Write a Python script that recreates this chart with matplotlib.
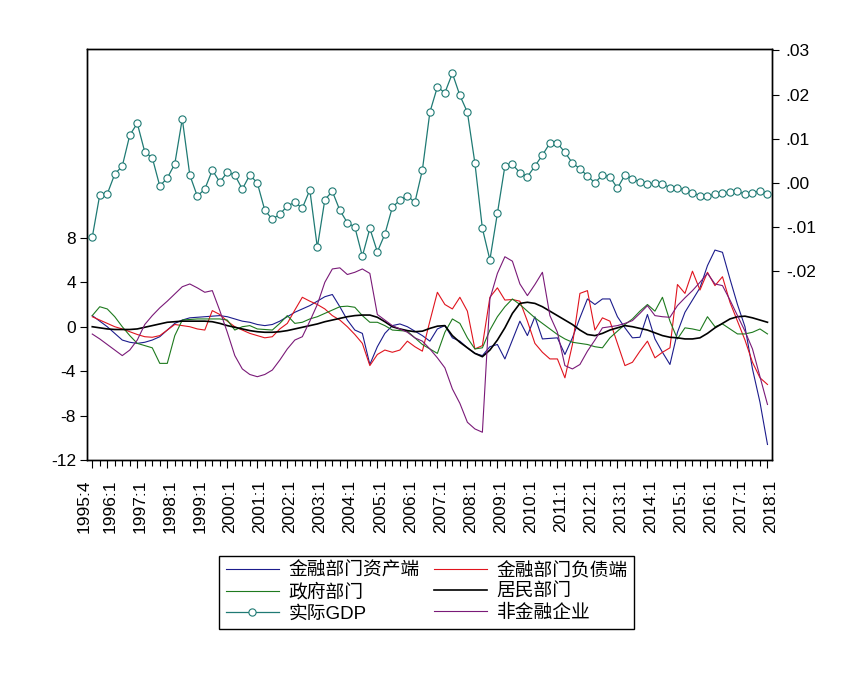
import numpy as np
import matplotlib
matplotlib.use('Agg')
import matplotlib.pyplot as plt
import matplotlib.transforms as mtransforms

plt.rcParams['font.family'] = ['Liberation Sans', 'Noto Sans CJK SC', 'DejaVu Sans']

# quarterly observations, 91 points (left edge labelled 1995:4, last 2018:1)
tick_labels = ['1995:4'] + [f'{y}:1' for y in range(1996, 2019)]

# 实际GDP (right axis)
gdp = [-0.0123, -0.0027, -0.0025, 0.0020, 0.0038, 0.0108, 0.0135, 0.0070, 0.0057, -0.0007,
       0.0011, 0.0043, 0.0145, 0.0018, -0.0030, -0.0014, 0.0029, 0.0002, 0.0024, 0.0018,
       -0.0014, 0.0018, 0.0000, -0.0062, -0.0082, -0.0071, -0.0052, -0.0044, -0.0057, -0.0016,
       -0.0146, -0.0038, -0.0019, -0.0062, -0.0090, -0.0100, -0.0166, -0.0103, -0.0156, -0.0116,
       -0.0055, -0.0039, -0.0029, -0.0044, 0.0029, 0.0160, 0.0217, 0.0204, 0.0248, 0.0198,
       0.0160, 0.0045, -0.0103, -0.0174, -0.0069, 0.0038, 0.0042, 0.0023, 0.0014, 0.0038,
       0.0063, 0.0090, 0.0090, 0.0069, 0.0045, 0.0032, 0.0016, 0.0000, 0.0018, 0.0014,
       -0.0012, 0.0018, 0.0009, 0.0002, -0.0002, -0.0001, -0.0002, -0.0011, -0.0011, -0.0016,
       -0.0022, -0.0029, -0.0029, -0.0026, -0.0023, -0.0020, -0.0018, -0.0026, -0.0022, -0.0018,
       -0.0025]

# 居民部门
household = [0.0, -0.1, -0.2, -0.25, -0.25, -0.25, -0.2, -0.05, 0.1, 0.25,
             0.4, 0.45, 0.5, 0.5, 0.5, 0.5, 0.45, 0.3, 0.1, -0.05,
             -0.2, -0.35, -0.45, -0.5, -0.5, -0.45, -0.35, -0.2, -0.05, 0.1,
             0.25, 0.45, 0.6, 0.75, 0.9, 1.0, 1.05, 1.05, 0.85, 0.45,
             0.0, -0.2, -0.35, -0.45, -0.4, -0.15, 0.05, 0.1, -0.8, -1.4,
             -1.9, -2.4, -2.7, -2.1, -1.2, -0.1, 1.2, 2.1, 2.2, 2.1,
             1.8, 1.4, 1.0, 0.6, 0.2, -0.3, -0.7, -0.8, -0.6, -0.3,
             -0.1, 0.1, 0.0, -0.15, -0.3, -0.55, -0.8, -0.95, -1.0, -1.1,
             -1.1, -1.0, -0.6, -0.1, 0.3, 0.7, 0.9, 0.95, 0.8, 0.6,
             0.4]

# 金融部门资产端
fin_asset = [1.0, 0.5, 0.0, -0.6, -1.2, -1.4, -1.5, -1.4, -1.2, -0.9,
             -0.3, 0.3, 0.6, 0.8, 0.85, 0.9, 0.95, 1.0, 0.9, 0.7,
             0.5, 0.4, 0.2, 0.1, 0.2, 0.5, 0.9, 1.3, 1.6, 1.9,
             2.3, 2.7, 2.9, 1.8, 0.6, -0.3, -0.6, -3.4, -1.8, -0.6,
             0.1, 0.25, 0.0, -0.4, -0.8, -1.3, -0.2, 0.1, -1.0, -1.3,
             -1.9, -2.4, -2.6, -1.8, -1.6, -2.9, -1.2, 0.5, -0.8, 0.9,
             -1.1, -1.05, -1.0, -2.5, -1.0, 0.8, 2.5, 2.0, 2.5, 2.5,
             0.9, -0.1, -1.0, -0.95, 1.1, -1.1, -2.3, -3.4, -0.5, 1.3,
             2.4, 3.5, 5.5, 6.9, 6.7, 4.3, 2.0, 0.0, -3.8, -6.8,
             -10.6]

# 金融部门负债端
fin_liab = [0.9, 0.6, 0.3, 0.0, -0.2, -0.45, -0.7, -0.9, -0.95, -0.8,
            -0.3, 0.2, 0.1, 0.0, -0.2, -0.3, 1.45, 1.1, 0.5, 0.0,
            -0.3, -0.6, -0.8, -1.0, -0.9, -0.2, 0.3, 1.5, 2.65, 2.3,
            2.0, 1.6, 1.0, 0.6, 0.0, -0.7, -1.5, -3.5, -2.5, -2.1,
            -2.3, -2.1, -1.3, -1.8, -2.2, 0.5, 3.1, 2.0, 1.6, 2.65,
            1.4, -2.0, -1.7, 2.65, 3.5, 2.4, 2.45, 2.3, 0.5, -1.5,
            -2.3, -2.9, -2.9, -4.6, -1.6, 3.0, 3.25, -0.3, 0.8, 0.5,
            -1.5, -3.5, -3.2, -2.2, -1.3, -2.8, -2.3, -1.9, 3.8, 3.0,
            5.0, 3.3, 4.9, 3.7, 4.5, 2.2, 0.5, -1.2, -3.2, -4.6,
            -5.2]

# 政府部门
government = [1.0, 1.8, 1.6, 0.9, 0.0, -0.8, -1.5, -1.7, -1.9, -3.3,
              -3.3, -0.8, 0.6, 0.65, 0.7, 0.7, 0.7, 0.7, 0.6, -0.3,
              0.0, 0.1, -0.2, -0.25, -0.3, 0.3, 1.0, 0.3, 0.4, 0.7,
              0.9, 1.2, 1.5, 1.8, 1.85, 1.75, 1.0, 0.4, 0.4, 0.1,
              -0.3, -0.35, -0.4, -1.0, -1.6, -2.0, -2.4, -0.5, 0.7, 0.3,
              -1.0, -2.0, -1.9, -0.3, 0.9, 1.8, 2.5, 2.0, 1.4, 0.8,
              0.3, -0.2, -0.7, -1.1, -1.4, -1.5, -1.6, -1.8, -1.9, -1.0,
              -0.4, 0.2, 0.7, 1.4, 2.0, 1.4, 2.65, 0.5, -1.1, -0.1,
              -0.2, -0.35, 0.9, 0.0, 0.25, -0.2, -0.65, -0.65, -0.5, -0.2,
              -0.65]

# 非金融企业
nonfin = [-0.66, -1.1, -1.6, -2.1, -2.6, -2.1, -1.2, 0.2, 1.0, 1.7,
          2.3, 2.95, 3.6, 3.85, 3.5, 3.1, 3.25, 1.45, -0.5, -2.6,
          -3.8, -4.3, -4.5, -4.3, -3.9, -3.0, -2.0, -1.2, -0.9, 0.5,
          2.0, 4.0, 5.2, 5.3, 4.7, 4.9, 5.2, 4.8, 1.1, 0.6,
          0.1, -0.2, -0.5, -1.0, -1.3, -2.0, -2.8, -3.7, -5.6, -6.9,
          -8.6, -9.2, -9.5, 2.5, 4.8, 6.3, 5.9, 3.85, 2.8, 3.8,
          4.9, 1.0, -0.5, -3.5, -3.8, -3.4, -2.2, -1.2, -0.1, 0.0,
          0.1, 0.3, 0.55, 1.2, 1.9, 1.0, 0.9, 0.85, 1.9, 2.6,
          3.25, 4.0, 4.8, 3.85, 3.7, 2.4, 1.0, -0.4, -2.0, -4.5,
          -7.0]

x = np.arange(len(gdp))

fig = plt.figure(figsize=(8.64, 6.76), dpi=100)
ax = fig.add_axes([0.1007, 0.3195, 0.7928, 0.608])
ax2 = ax.twinx()

l1, = ax.plot(x, fin_asset, color='#1c1c8c', lw=0.8, label='金融部门资产端')
l2, = ax.plot(x, fin_liab, color='#e0141e', lw=0.8, label='金融部门负债端')
l3, = ax.plot(x, government, color='#1e7a1e', lw=0.8, label='政府部门')
l4, = ax.plot(x, household, color='black', lw=1.2, label='居民部门')
l6, = ax.plot(x, nonfin, color='#7a1a78', lw=0.8, label='非金融企业')
l5, = ax2.plot(x, gdp, color='#1f7a74', lw=0.9, marker='o', ms=5.2,
               mfc='white', mec='#1f7a74', mew=0.8, label='实际GDP')

ax.set_xlim(-0.7, 90.6)
ax.set_ylim(-12, 25)
ax.set_yticks([-12, -8, -4, 0, 4, 8])
ax.set_yticklabels(['-12', '-8', '-4', '0', '4', '8'])
ax2.set_ylim(-0.0627, 0.0303)
ax2.set_yticks([-0.02, -0.01, 0.0, 0.01, 0.02, 0.03])
ax2.set_yticklabels(['-.02', '-.01', '.00', '.01', '.02', '.03'])

ax.set_xticks([0] + [2 + 4 * k for k in range(23)])
ax.set_xticklabels(tick_labels, rotation=90)
ax.set_xticks(x, minor=True)

ax.tick_params(axis='x', which='major', direction='out', length=6, width=0.8, labelsize=12.5, pad=8)
ax.tick_params(axis='x', which='minor', direction='out', length=4, width=0.8)
ax.tick_params(axis='y', direction='out', length=5, width=0.8, labelsize=12.5, pad=3)
ax2.tick_params(axis='y', direction='out', length=5, width=0.8, labelsize=12.5, pad=5)

# nudge the crowded first label to the left, the others slightly right
for i, lab in enumerate(ax.get_xticklabels()):
    dx = -6 / 72 if i == 0 else 2 / 72
    lab.set_transform(lab.get_transform() + mtransforms.ScaledTranslation(dx, 0, fig.dpi_scale_trans))

for sp in list(ax.spines.values()) + list(ax2.spines.values()):
    sp.set_linewidth(1.0)
    sp.set_color('black')

handles = [l1, l3, l5, l2, l4, l6]
leg = fig.legend(handles, [h.get_label() for h in handles], ncol=2,
                 loc='center', bbox_to_anchor=(0.494, 0.1235),
                 fontsize=13.5, frameon=True, fancybox=False, edgecolor='black',
                 framealpha=1, handlelength=2.85, handletextpad=0.5,
                 columnspacing=0.75, labelspacing=0.2, borderpad=0.35)
leg.get_frame().set_linewidth(1.0)

fig.savefig('out.png', dpi=100)
